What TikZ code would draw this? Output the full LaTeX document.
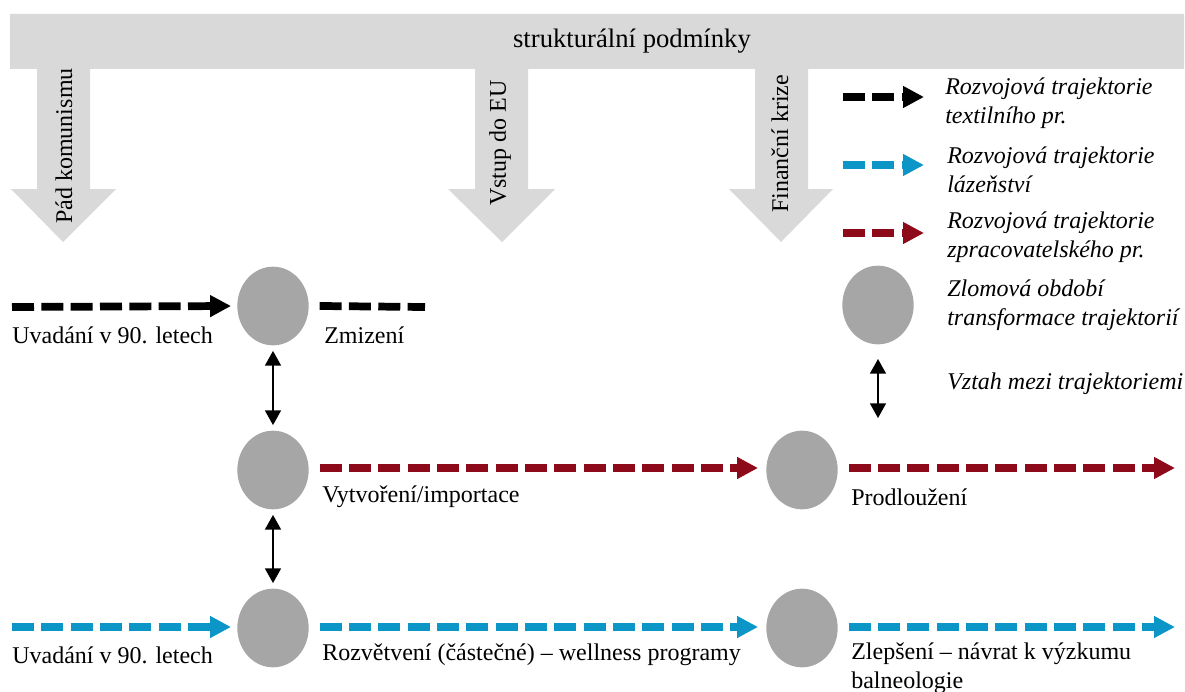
\documentclass[tikz,border=0pt]{standalone}
\usepackage{fontspec}
\setmainfont{Liberation Serif}
\usetikzlibrary{arrows.meta}
\definecolor{bargray}{RGB}{217,217,217}
\definecolor{elgray}{RGB}{166,166,166}
\definecolor{tblue}{RGB}{12,150,200}
\definecolor{tred}{RGB}{140,10,26}
\tikzset{
  traj/.style={line width=5.8pt, dash pattern=on 16.5pt off 5.5pt,
    -{Triangle[length=15.75pt,width=15.5pt]}},
  trajplain/.style={line width=5.8pt, dash pattern=on 16.5pt off 5.5pt},
  period/.style={ellipse, fill=elgray, minimum width=53.5pt, minimum height=59pt, inner sep=0pt},
  rel/.style={line width=1.1pt, {Triangle[length=11pt,width=12pt]}-{Triangle[length=11pt,width=12pt]}},
  lbl/.style={anchor=west, inner sep=0pt, font=\fontsize{18}{21.5}\selectfont, align=left},
  leg/.style={anchor=west, inner sep=0pt, font=\fontsize{18}{21.5}\selectfont\itshape, align=left},
  rot/.style={rotate=90, inner sep=0pt, font=\fontsize{18}{21.5}\selectfont},
}
\usetikzlibrary{shapes.geometric}
\begin{document}
\begin{tikzpicture}[x=0.75pt,y=-0.75pt]
\useasboundingbox (0,0) rectangle (1185,692);
% structural bar with three arrows
\fill[bargray] (10,14) -- (1184,14) -- (1184,69)
  -- (808,69) -- (808,189) -- (833,189) -- (781,242) -- (729,189) -- (755,189) -- (755,69)
  -- (528,69) -- (528,189) -- (555,189) -- (502,242) -- (448,189) -- (475,189) -- (475,69)
  -- (90,69) -- (90,189) -- (116,189) -- (63,242) -- (11,189) -- (37,189) -- (37,69)
  -- (10,69) -- cycle;
\node[inner sep=0pt, font=\fontsize{20}{24}\selectfont] (bar) at (632,41) {strukturální podmínky};
\node[rot] (pad) at (64,146) {Pád komunismu};
\node[rot] (eu) at (500,143) {Vstup do EU};
\node[rot] (fin) at (780,144) {Finanční krize};

% period ellipses
\node[period] (a1) at (273,306) {};
\node[period] (a2) at (273,470) {};
\node[period] (a3) at (273,628) {};
\node[period] (b2) at (802,470) {};
\node[period] (b3) at (802,628) {};

% free ends
\coordinate (s1) at (12,307);
\coordinate (z1) at (425,307);
\coordinate (s3) at (12,627);
\coordinate (r2) at (1175,468);
\coordinate (r3) at (1175,627);

% textile
\draw[traj, black] (s1) -- ([xshift=-4.5pt]a1.west);
\draw[trajplain, black] ([xshift=8pt]a1.east) -- (z1);
% processing
\draw[traj, tred] ([xshift=8pt,yshift=1.5pt]a2.east) -- ([xshift=-6pt,yshift=1.5pt]b2.west);
\draw[traj, tred] ([xshift=8pt,yshift=1.5pt]b2.east) -- (r2);
% spa
\draw[traj, tblue] (s3) -- ([xshift=-4.5pt,yshift=0.75pt]a3.west);
\draw[traj, tblue] ([xshift=8pt,yshift=0.75pt]a3.east) -- ([xshift=-6pt,yshift=0.75pt]b3.west);
\draw[traj, tblue] ([xshift=8pt,yshift=0.75pt]b3.east) -- (r3);

% relations
\draw[rel] ([yshift=-4pt]a1.south) -- ([yshift=4pt]a2.north);
\draw[rel] ([yshift=-4pt]a2.south) -- ([yshift=4pt]a3.north);

% labels
\node[lbl] (t1) at (12,335) {Uvadání v 90. letech};
\node[lbl] (t2) at (324,335) {Zmizení};
\node[lbl] (t3) at (322,497) {Vytvoření/importace};
\node[lbl] (t4) at (851,497) {Prodloužení};
\node[lbl] (t5) at (12,655) {Uvadání v 90. letech};
\node[lbl] (t6) at (322,655) {Rozvětvení (částečné) – wellness programy};
\node[lbl, anchor=north west] (t7) at (851,643) {Zlepšení – návrat k výzkumu\\balneologie};

% legend
\coordinate (lk1) at (843,97);
\coordinate (lk2) at (924,97);
\coordinate (lb1) at (843,165);
\coordinate (lb2) at (924,165);
\coordinate (lr1) at (843,233);
\coordinate (lr2) at (924,233);
\draw[traj, black] (lk1) -- (lk2);
\draw[traj, tblue] (lb1) -- (lb2);
\draw[traj, tred] (lr1) -- (lr2);
\node[period] (le) at (878,305) {};
\coordinate (lv1) at (878,359);
\coordinate (lv2) at (878,418);
\draw[rel] (lv1) -- (lv2);
\node[leg] (g1) at (945,103) {Rozvojová trajektorie\\textilního pr.};
\node[leg] (g2) at (947,170) {Rozvojová trajektorie\\lázeňství};
\node[leg] (g3) at (947,237) {Rozvojová trajektorie\\zpracovatelského pr.};
\node[leg] (g4) at (947,305) {Zlomová období\\transformace trajektorií};
\node[leg] (g5) at (947,384) {Vztah mezi trajektoriemi};
\end{tikzpicture}
\end{document}
